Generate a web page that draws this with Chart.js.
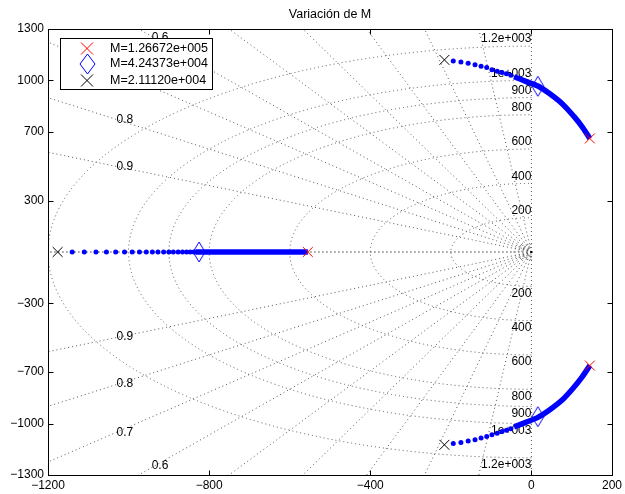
<!DOCTYPE html>
<html>
<head>
<meta charset="utf-8">
<script src="https://cdn.jsdelivr.net/npm/chart.js@4"></script>
<style>html,body{margin:0;padding:0;background:#fff}</style>
</head>
<body>
<canvas id="chart" width="625" height="494"></canvas>
<script>
// Ejes
const xTicks = [-1200, -800, -400, 0, 200];
const yTicks = [-1300, -1000, -700, -300, 300, 700, 1000, 1300];

// Polos para cada valor de M (eje real, rama superior, rama inferior)
const legendLabels = ['M=1.26672e+005', 'M=4.24373e+004', 'M=2.11120e+004'];
const poleMaxX = [-555, 145, 145];
const poleMaxY = [0, 662, -662];
const poleMidX = [-825, 16, 16];
const poleMidY = [0, 966, -960];
const poleMinX = [-1176, -216, -216];
const poleMinY = [0, 1120, -1124];

// Lugar de raices sobre el eje real
const realDotsX = [-1140, -1110, -1081, -1055, -1032, -1010, -991, -973, -956, -941, -927, -913, -900, -889, -877, -866, -856, -847, -838];
const realBandX = [-834, -555];

// Rama superior
const upDotsX = [-194, -175, -157, -140, -125, -111, -98, -85, -73, -62, -51];
const upDotsY = [1114, 1108, 1100, 1092, 1083, 1075, 1063, 1054, 1046, 1039, 1030];
const upBandX = [-43, -14, 16, 44, 77, 106, 126, 145];
const upBandY = [1022, 995, 968, 925, 863, 789, 730, 662];

// Rama inferior
const lowDotsX = [-194, -175, -157, -140, -125, -111, -98, -85, -73, -62, -51];
const lowDotsY = [-1116, -1110, -1102, -1094, -1085, -1076, -1065, -1056, -1047, -1039, -1030];
const lowBandX = [-43, -14, 16, 44, 77, 106, 126, 145];
const lowBandY = [-1020, -993, -964, -922, -861, -787, -728, -662];

// sgrid: amortiguamiento y frecuencia natural
const zetaValues = [0, 0.1, 0.2, 0.3, 0.4, 0.5, 0.6, 0.7, 0.8, 0.9, 1];
const wnValues = [200, 400, 600, 800, 900, 1000, 1200];
const wnLabels = ['200', '400', '600', '800', '900', '1e+003', '1.2e+003'];
const wnSmall = [13, 25, 33, 44];
const zetaLabels = ['0.6', '0.7', '0.8', '0.9'];
const zetaLabelX = [-922, -1009, -1009, -1009];
const zetaLabelY = [1247, 1053, 770, 495];

const BLUE = '#0000ff';
const FONT = '"Liberation Sans", Arial, Helvetica, sans-serif';

function drawX(ctx, cx, cy, h, color) {
    ctx.strokeStyle = color;
    ctx.lineWidth = 1;
    ctx.beginPath();
    ctx.moveTo(cx - h, cy - h); ctx.lineTo(cx + h, cy + h);
    ctx.moveTo(cx - h, cy + h); ctx.lineTo(cx + h, cy - h);
    ctx.stroke();
}

function drawDiamond(ctx, cx, cy, hw, hh, color) {
    ctx.strokeStyle = color;
    ctx.lineWidth = 1;
    ctx.beginPath();
    ctx.moveTo(cx, cy - hh);
    ctx.lineTo(cx + hw, cy);
    ctx.lineTo(cx, cy + hh);
    ctx.lineTo(cx - hw, cy);
    ctx.closePath();
    ctx.stroke();
}

// marcador rombo alto (como en MATLAB)
const diamondImg = document.createElement('canvas');
diamondImg.width = 14;
diamondImg.height = 22;
drawDiamond(diamondImg.getContext('2d'), 7, 11, 6, 10, BLUE);

const sgridPlugin = {
    id: 'sgrid',
    beforeDatasetsDraw(chart) {
        const { ctx, chartArea: a, scales: { x, y } } = chart;
        const ox = x.getPixelForValue(0), oy = y.getPixelForValue(0);
        const kx = (x.getPixelForValue(1000) - ox) / 1000;
        const ky = (oy - y.getPixelForValue(1000)) / 1000;
        ctx.save();
        ctx.beginPath();
        ctx.rect(a.left, a.top, a.right - a.left, a.bottom - a.top);
        ctx.clip();
        ctx.strokeStyle = '#555';
        ctx.lineWidth = 1;
        ctx.setLineDash([1, 3]);
        zetaValues.forEach(z => {
            const w = Math.sqrt(1 - z * z);
            [1, -1].forEach(s => {
                ctx.beginPath();
                ctx.moveTo(ox, oy);
                ctx.lineTo(x.getPixelForValue(-z * 5000), y.getPixelForValue(s * w * 5000));
                ctx.stroke();
            });
        });
        wnValues.concat(wnSmall).forEach(r => {
            ctx.beginPath();
            ctx.ellipse(ox, oy, r * kx, r * ky, 0, Math.PI / 2, 3 * Math.PI / 2);
            ctx.stroke();
        });
        ctx.setLineDash([]);
        ctx.fillStyle = '#000';
        ctx.font = '12px ' + FONT;
        ctx.textAlign = 'center';
        ctx.textBaseline = 'middle';
        zetaLabels.forEach((t, i) => {
            const px = x.getPixelForValue(zetaLabelX[i]);
            ctx.fillText(t, px, y.getPixelForValue(zetaLabelY[i]));
            ctx.fillText(t, px, y.getPixelForValue(-zetaLabelY[i]));
        });
        ctx.textAlign = 'right';
        wnLabels.forEach((t, i) => {
            ctx.fillText(t, ox, y.getPixelForValue(wnValues[i]) - 7);
            ctx.fillText(t, ox, y.getPixelForValue(-wnValues[i]) + 7);
        });
        ctx.restore();
    },
    afterDraw(chart) {
        const { ctx, chartArea: a, scales: { x, y } } = chart;
        ctx.save();
        // caja y marcas hacia dentro
        ctx.strokeStyle = '#000';
        ctx.lineWidth = 1;
        const L = Math.round(a.left) + 0.5, R = Math.round(a.right) + 0.5;
        const T = Math.round(a.top) + 0.5, B = Math.round(a.bottom) + 0.5;
        ctx.strokeRect(L, T, R - L, B - T);
        ctx.beginPath();
        xTicks.forEach(v => {
            const px = Math.round(x.getPixelForValue(v)) + 0.5;
            ctx.moveTo(px, B); ctx.lineTo(px, B - 5);
            ctx.moveTo(px, T); ctx.lineTo(px, T + 5);
        });
        yTicks.forEach(v => {
            const py = Math.round(y.getPixelForValue(v)) + 0.5;
            ctx.moveTo(L, py); ctx.lineTo(L + 5, py);
            ctx.moveTo(R, py); ctx.lineTo(R - 5, py);
        });
        ctx.stroke();

        // titulo
        ctx.fillStyle = '#000';
        ctx.font = '12.5px ' + FONT;
        ctx.textAlign = 'center';
        ctx.textBaseline = 'middle';
        ctx.fillText('Variación de M', (a.left + a.right) / 2, 15);

        // leyenda
        ctx.fillStyle = '#fff';
        ctx.fillRect(60.5, 38.5, 152, 51);
        ctx.strokeStyle = '#000';
        ctx.strokeRect(60.5, 38.5, 152, 51);
        const rows = [48.5, 64, 80.5];
        drawX(ctx, 87, rows[0], 6, '#ff0000');
        drawDiamond(ctx, 87.5, rows[1], 7.5, 10, BLUE);
        drawX(ctx, 87, rows[2], 6, '#000');
        ctx.fillStyle = '#000';
        ctx.textAlign = 'left';
        legendLabels.forEach((t, i) => ctx.fillText(t, 110, rows[i]));
        ctx.restore();
    }
};

const pts = (xs, ys) => xs.map((v, i) => ({ x: v, y: ys[i] }));
const minus = v => String(v).replace('-', '\u2212');

new Chart(document.getElementById('chart'), {
    type: 'scatter',
    data: {
        datasets: [
            { data: pts(poleMaxX, poleMaxY), pointStyle: 'crossRot', pointRadius: 7, borderColor: '#ff0000', borderWidth: 1 },
            { data: pts(poleMidX, poleMidY), pointStyle: diamondImg, pointRadius: 8 },
            { data: pts(poleMinX, poleMinY), pointStyle: 'crossRot', pointRadius: 7, borderColor: '#000', borderWidth: 1 },
            { data: [{ x: 0, y: 0 }], pointStyle: 'rect', pointRadius: 1.5, backgroundColor: '#000', borderWidth: 0 },
            { data: pts(realDotsX, realDotsX.map(() => 0)), pointRadius: 2.5, backgroundColor: BLUE, borderWidth: 0 },
            { data: pts(realBandX, realBandX.map(() => 0)), showLine: true, pointRadius: 0, borderColor: BLUE, borderWidth: 5.5 },
            { data: pts(upDotsX, upDotsY), pointRadius: 2.5, backgroundColor: BLUE, borderWidth: 0 },
            { data: pts(upBandX, upBandY), showLine: true, tension: 0.3, pointRadius: 0, borderColor: BLUE, borderWidth: 5.5 },
            { data: pts(lowDotsX, lowDotsY), pointRadius: 2.5, backgroundColor: BLUE, borderWidth: 0 },
            { data: pts(lowBandX, lowBandY), showLine: true, tension: 0.3, pointRadius: 0, borderColor: BLUE, borderWidth: 5.5 }
        ]
    },
    options: {
        responsive: false,
        animation: false,
        layout: { padding: { top: 29, right: 11, left: 0, bottom: 0 } },
        plugins: { legend: { display: false }, tooltip: { enabled: false }, title: { display: false } },
        scales: {
            x: {
                type: 'linear', min: -1200, max: 200,
                afterBuildTicks: s => { s.ticks = xTicks.map(v => ({ value: v })); },
                afterFit: s => { s.height = 19; },
                grid: { display: false, drawTicks: false },
                border: { display: false },
                ticks: { color: '#000', padding: 3, maxRotation: 0, font: { size: 12, family: FONT }, callback: minus }
            },
            y: {
                type: 'linear', min: -1300, max: 1300,
                afterBuildTicks: s => { s.ticks = yTicks.map(v => ({ value: v })); },
                afterFit: s => { s.width = 48; },
                grid: { display: false, drawTicks: false },
                border: { display: false },
                ticks: { color: '#000', padding: 4, font: { size: 12, family: FONT }, callback: minus }
            }
        }
    },
    plugins: [sgridPlugin]
});
</script>
</body>
</html>
